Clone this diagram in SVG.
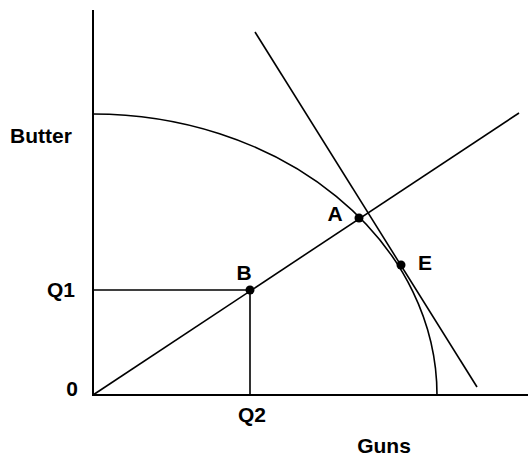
<svg xmlns="http://www.w3.org/2000/svg" width="529" height="457" viewBox="0 0 529 457">
<style>
.ln{stroke:#000;stroke-width:1.6;fill:none}
.ax{stroke:#000;stroke-width:2;fill:none}
.t{font-family:"Liberation Sans",Arial,sans-serif;font-weight:bold;font-size:21px;fill:#000}
.dot{fill:#000}
</style>
<rect width="529" height="457" fill="#fff"/>
<g id="connectors">
<path class="ax" d="M93 10 V395 H528"/>
<path class="ln" d="M93 114 A344 281 0 0 1 437 395"/>
<path class="ln" d="M93 395 L519 113"/>
<path class="ln" d="M255 32 L477 387"/>
<path class="ln" d="M93 290 H250 V395"/>
</g>
<g id="labels">
<text class="t" x="10" y="143">Butter</text>
<text class="t" x="75" y="297" text-anchor="end">Q1</text>
<text class="t" x="78" y="396" text-anchor="end">0</text>
<text class="t" x="252" y="422" text-anchor="middle">Q2</text>
<text class="t" x="384" y="453" text-anchor="middle">Guns</text>
</g>
<g id="B"><circle class="dot" cx="250" cy="290" r="4.5"/><text class="t" x="244" y="280" text-anchor="middle">B</text></g>
<g id="A"><circle class="dot" cx="359" cy="218" r="4.5"/><text class="t" x="335" y="221" text-anchor="middle">A</text></g>
<g id="E"><circle class="dot" cx="401" cy="265" r="4.5"/><text class="t" x="425" y="270" text-anchor="middle">E</text></g>
</svg>
